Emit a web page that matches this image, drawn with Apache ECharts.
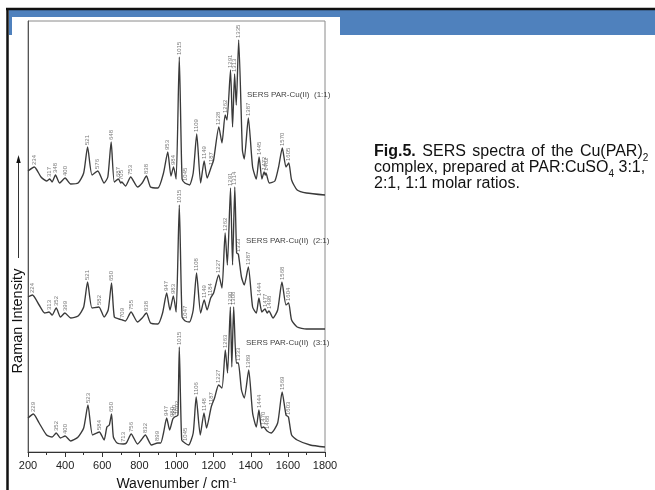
<!DOCTYPE html>
<html>
<head>
<meta charset="utf-8">
<script src="https://cdn.jsdelivr.net/npm/echarts@6/dist/echarts.min.js"></script>
<style>
html,body{margin:0;padding:0;background:#fff;}
#main{width:655px;height:490px;}
</style>
</head>
<body>
<div id="main"></div>
<script>
// ---- data (wavenumber / relative intensity) ----
const xTickValues = [200, 400, 600, 800, 1000, 1200, 1400, 1600, 1800];

const topW = [200,234,270,300,317,330,348,370,400,430,470,500,521,545,576,610,630,648,665,687,700,705,725,753,790,815,838,860,900,930,953,970,984,998,1015,1030,1045,1070,1090,1109,1130,1149,1165,1187,1200,1228,1245,1262,1272,1291,1302,1313,1322,1335,1355,1365,1387,1410,1430,1445,1460,1472,1478,1482,1500,1530,1550,1570,1590,1605,1620,1650,1700,1800];
const topV = [281,285,275,271,273,270,277,269,274,268,269,279,305,277,281,269,275,310,270,273,269,270,266,275,265,269,276,265,264,279,300,276,285,273,395,273,269,267,279,318,269,291,274,285,292,325,309,337,332,382,325,378,347,412,302,293,334,285,273,295,273,280,277,279,269,271,285,304,285,289,272,262,259,257];
const topPeaks = [234,317,348,400,521,576,648,687,705,753,838,953,984,1015,1045,1109,1149,1187,1228,1262,1291,1313,1335,1387,1445,1472,1482,1570,1605];

const midW = [200,224,260,290,313,330,352,375,399,430,470,500,521,545,582,610,632,650,665,690,709,725,755,790,815,838,860,900,925,947,965,983,998,1015,1030,1047,1070,1090,1108,1130,1149,1165,1184,1200,1227,1245,1262,1274,1291,1302,1314,1324,1333,1350,1365,1387,1410,1430,1444,1460,1477,1488,1498,1520,1545,1568,1590,1604,1620,1650,1700,1800];
const midV = [155,157,147,139,140,137,144,135,139,134,136,145,170,144,145,135,142,169,135,133,132,131,140,130,134,139,129,128,139,159,142,156,140,247,135,131,130,142,179,139,152,142,154,159,177,164,219,187,264,187,265,199,198,175,167,185,145,139,154,140,143,139,141,134,142,170,147,149,132,125,123,123];
const midPeaks = [224,313,352,399,521,582,650,709,755,838,947,983,1015,1047,1108,1149,1184,1227,1262,1291,1314,1333,1387,1444,1477,1498,1568,1604];

const botW = [200,229,260,300,330,352,375,400,430,470,500,523,548,584,610,625,638,650,660,680,713,730,756,790,810,832,865,899,915,930,947,963,980,990,1002,1008,1015,1028,1045,1065,1090,1106,1128,1148,1162,1187,1205,1227,1245,1263,1275,1290,1298,1308,1322,1333,1350,1365,1389,1410,1430,1444,1458,1470,1488,1510,1545,1569,1590,1603,1620,1650,1720,1800];
const botV = [34,38,29,17,15,19,14,16,11,15,24,47,17,20,12,25,27,38,15,9,8,9,18,8,12,17,7,9,9,19,34,22,33,35,36,37,105,12,9,7,19,55,17,39,24,45,54,67,64,102,79,145,85,145,89,89,62,54,82,39,25,42,24,25,21,19,29,60,37,35,17,12,7,5];
const botPeaks = [229,352,400,523,584,650,713,756,832,899,947,980,990,1002,1015,1045,1106,1148,1187,1227,1263,1290,1308,1333,1389,1444,1470,1488,1569,1603];

const seriesNames = ['SERS PAR-Cu(II)  (1:1)', 'SERS PAR-Cu(II)  (2:1)', 'SERS PAR-Cu(II)  (3:1)'];
const xAxisTitle = 'Wavenumber / cm';
const yAxisTitle = 'Raman Intensity';

// ---- build ----
const FONT = '"Liberation Sans", Arial, Helvetica, sans-serif';
function pts(W, V) { return W.map((w, i) => [w, V[i]]); }
function peakPts(W, V, peaks) {
  return peaks.map(p => {
    let best = 0;
    for (let i = 0; i < W.length; i++) if (Math.abs(W[i] - p) < Math.abs(W[best] - p)) best = i;
    return [p, V[best]];
  });
}
function lineSeries(W, V) {
  return {
    type: 'line', data: pts(W, V), showSymbol: false, smooth: 0.2, silent: true, z: 3,
    lineStyle: { color: '#3a3a3a', width: 1.35 }
  };
}
function labelSeries(W, V, peaks) {
  return {
    type: 'scatter', data: peakPts(W, V, peaks), symbolSize: 0, silent: true, z: 4,
    label: {
      show: true, position: 'top', distance: 2, rotate: 90, align: 'left', verticalAlign: 'middle',
      fontSize: 6, color: '#555', fontFamily: FONT,
      formatter: p => String(p.value[0])
    }
  };
}

const chart = echarts.init(document.getElementById('main'), null, { renderer: 'canvas' });
chart.setOption({
  backgroundColor: '#ffffff',
  animation: false,
  grid: { left: 28, right: 330, top: 21, bottom: 38, outerBoundsMode: 'none', containLabel: false,
          show: true, borderColor: '#8a8a8a', borderWidth: 1, backgroundColor: 'transparent' },
  xAxis: {
    type: 'value', min: xTickValues[0], max: xTickValues[xTickValues.length - 1], interval: 200,
    axisLine: { lineStyle: { color: '#333', width: 1 } },
    axisTick: { length: 5, lineStyle: { color: '#333' } },
    minorTick: { show: true, splitNumber: 2, length: 3, lineStyle: { color: '#333' } },
    splitLine: { show: false },
    axisLabel: { fontSize: 11, color: '#222', margin: 8, fontFamily: FONT, formatter: v => String(v) },
    name: xAxisTitle + '{sup|-1}', nameLocation: 'middle', nameGap: 25,
    nameTextStyle: { fontSize: 14, color: '#111', fontFamily: FONT,
      rich: { sup: { fontSize: 8, color: '#111', fontFamily: FONT, verticalAlign: 'top' } } }
  },
  yAxis: {
    type: 'value', min: 0, max: 431,
    axisLine: { show: true, lineStyle: { color: '#555' } },
    axisTick: { show: false }, axisLabel: { show: false }, splitLine: { show: false }
  },
  graphic: [
    { type: 'rect', z: -20, shape: { x: 9, y: 10, width: 646, height: 25 }, style: { fill: '#4F81BD' } },
    { type: 'rect', z: -19, shape: { x: 12, y: 17, width: 328, height: 480 }, style: { fill: '#ffffff' } },
    { type: 'line', z: -18, shape: { x1: 6, y1: 9, x2: 655, y2: 9 }, style: { stroke: '#111', lineWidth: 2.5 } },
    { type: 'line', z: -18, shape: { x1: 7.5, y1: 8, x2: 7.5, y2: 490 }, style: { stroke: '#111', lineWidth: 2.5 } },
    { type: 'text', x: 17.5, y: 321, rotation: Math.PI / 2,
      style: { text: yAxisTitle, fontSize: 14.5, fontFamily: FONT, fill: '#111', align: 'center', verticalAlign: 'middle' } },
    { type: 'line', shape: { x1: 18.5, y1: 258, x2: 18.5, y2: 160 }, style: { stroke: '#333', lineWidth: 1 } },
    { type: 'polygon', shape: { points: [[18.5, 155], [16.3, 163], [20.7, 163]] }, style: { fill: '#111' } },
    { type: 'text', x: 247, y: 95, style: { text: seriesNames[0], fontSize: 8, fontFamily: FONT, fill: '#444', verticalAlign: 'middle' } },
    { type: 'text', x: 246, y: 241, style: { text: seriesNames[1], fontSize: 8, fontFamily: FONT, fill: '#444', verticalAlign: 'middle' } },
    { type: 'text', x: 246, y: 343, style: { text: seriesNames[2], fontSize: 8, fontFamily: FONT, fill: '#444', verticalAlign: 'middle' } },
    { type: 'text', x: 374, y: 152, style: { text: '{b|Fig.5.}{w| }SERS{w| }spectra{w| }of{w| }the{w| }Cu(PAR){s|2}', fontSize: 16, fontFamily: FONT, fill: '#111', verticalAlign: 'middle',
        rich: { b: { fontWeight: 'bold', fontSize: 16, fontFamily: FONT, fill: '#111' },
                w: { fontSize: 16, fontFamily: FONT, width: 6.5 },
                s: { fontSize: 10, fontFamily: FONT, fill: '#111', verticalAlign: 'top', padding: [12, 0, 0, 0] } } } },
    { type: 'text', x: 374, y: 168, style: { text: 'complex, prepared at PAR:CuSO{s|4} 3:1,', fontSize: 16, fontFamily: FONT, fill: '#111', verticalAlign: 'middle',
        rich: { s: { fontSize: 10, fontFamily: FONT, fill: '#111', verticalAlign: 'top', padding: [12, 0, 0, 0] } } } },
    { type: 'text', x: 374, y: 184, style: { text: '2:1, 1:1 molar ratios.', fontSize: 16, fontFamily: FONT, fill: '#111', verticalAlign: 'middle' } }
  ],
  series: [
    lineSeries(topW, topV), labelSeries(topW, topV, topPeaks),
    lineSeries(midW, midV), labelSeries(midW, midV, midPeaks),
    lineSeries(botW, botV), labelSeries(botW, botV, botPeaks)
  ]
});
</script>
</body>
</html>
